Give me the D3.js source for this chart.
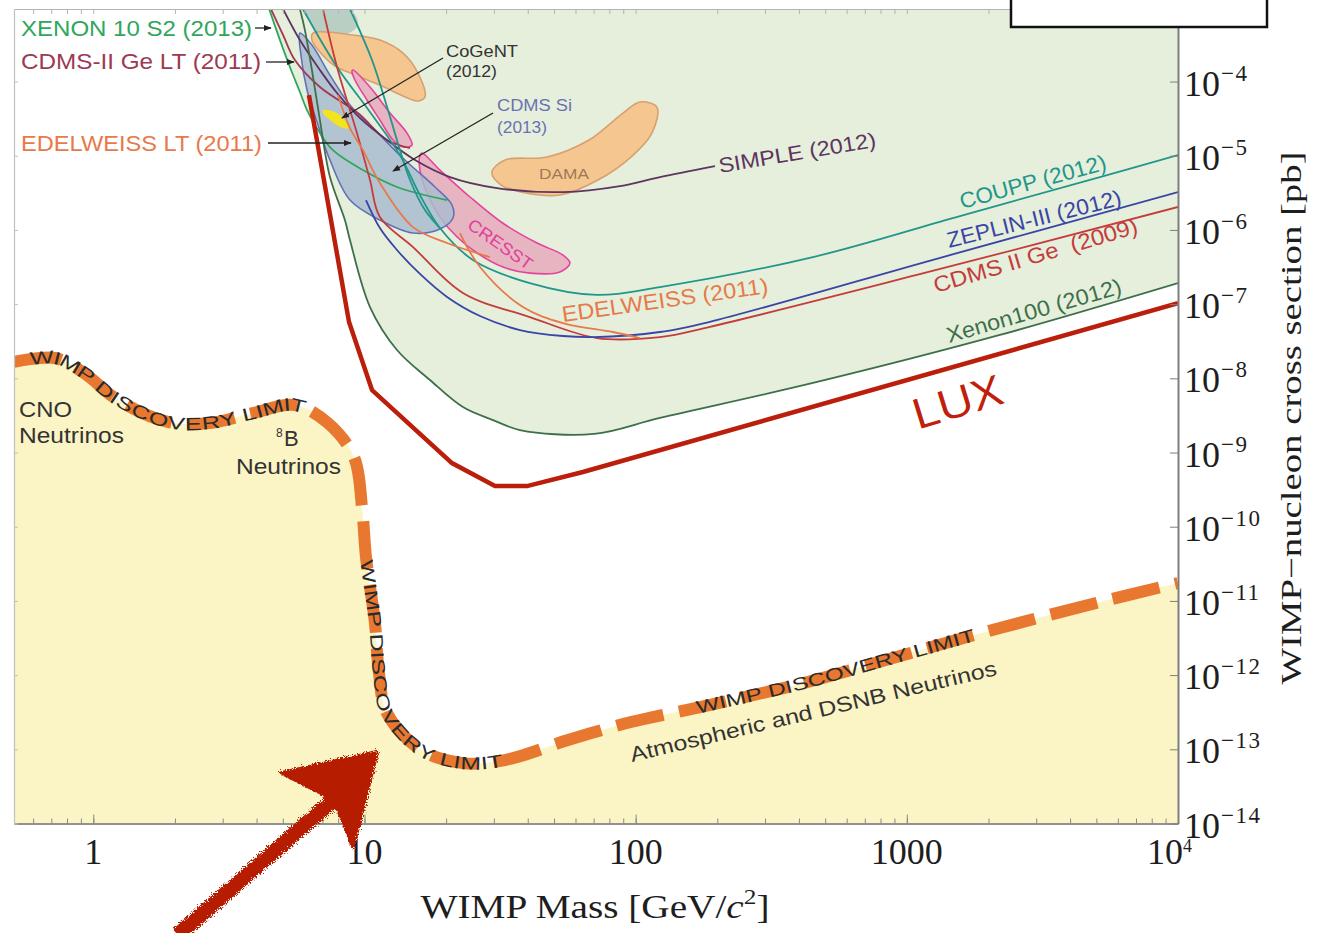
<!DOCTYPE html>
<html><head><meta charset="utf-8">
<script src="https://cdn.jsdelivr.net/npm/d3@7"></script>
<style>html,body{margin:0;padding:0;background:#fff;} svg{display:block;}</style>
</head><body>
<svg id="chart" width="1318" height="933"></svg>
<script>
// ---------------- DATA (mass in GeV/c^2, cross section in pb) ----------------
const massDomain = [0.51, 1e4];
const sigmaDomain = [1e-14, 9.5e-4];
const xTickValues = [1, 10, 100, 1000, 10000];
const xTickLabels = ["1", "10", "100", "1000", "10"];
const xTickSup = ["", "", "", "", "4"];
const yTickValues = [1e-4,1e-5,1e-6,1e-7,1e-8,1e-9,1e-10,1e-11,1e-12,1e-13,1e-14];
const yTickExponents = ["−4","−5","−6","−7","−8","−9","−10","−11","−12","−13","−14"];

const neutrinoFloor = [[0.51,1.66e-8],[0.722,1.88e-8],[0.924,1.18e-8],[1.233,5.1e-9],[1.885,2.58e-9],[2.693,2.5e-9],[3.88,3.4e-9],[5.54,4.36e-9],[7.33,2.5e-9],[9.15,8.69e-10],[9.79,1.84e-10],[10.13,3.9e-11],[10.93,5.04e-12],[11.31,1.07e-12],[12.1,3.08e-13],[16.16,9.77e-14],[23.07,6.52e-14],[32.96,7.16e-14],[56.3,1.33e-13],[96.1,2.33e-13],[172.6,3.71e-13],[403.5,7.59e-13],[943,1.81e-12],[2204,4.31e-12],[5152,9.66e-12],[10000,1.74e-11]];
const lux = [[6.24,6.58e-5],[8.77,5.74e-8],[10.66,6.95e-9],[21.02,7.21e-10],[30.28,3.53e-10],[39.75,3.53e-10],[63.9,5.46e-10],[10000,1.03e-7]];
const xenon100 = [[5.78,9.5e-4],[6.03,4.94e-4],[6.4,1.43e-4],[6.85,3.03e-5],[7.46,5.16e-6],[8.47,1.36e-6],[8.84,7.31e-7],[10.48,9.14e-8],[13.18,2.41e-8],[17.44,9.49e-9],[23.07,4.1e-9],[29.77,2.74e-9],[37.44,2.01e-9],[70.2,1.78e-9],[122.9,2.92e-9],[450.6,8.65e-9],[2204,3.84e-8],[10000,1.92e-7]];
const exclusionEdge = [[4.45,9.5e-4],[4.88,3.62e-4],[5.31,1.57e-4],[5.78,7.22e-5],[6.14,4.13e-5],[6.85,3.03e-5],[7.46,5.16e-6],[8.47,1.36e-6],[8.84,7.31e-7],[10.48,9.14e-8],[13.18,2.41e-8],[17.44,9.49e-9],[23.07,4.1e-9],[29.77,2.74e-9],[37.44,2.01e-9],[70.2,1.78e-9],[122.9,2.92e-9],[450.6,8.65e-9],[2204,3.84e-8],[10000,1.92e-7]];
const xenon10S2 = [[4.45,9.5e-4],[4.88,3.62e-4],[5.31,1.57e-4],[5.78,7.22e-5],[6.14,4.13e-5],[6.85,2.02e-5],[7.65,1.19e-5],[9.87,6.41e-6],[13.18,3.79e-6],[20.16,2.53e-6]];
const cdmsGeLT = [[4.52,9.5e-4],[5.01,4.24e-4],[5.54,1.95e-4],[6.85,8.43e-5],[9.46,3.76e-5],[12.1,1.63e-5],[14.72,1.27e-5]];
const simple = [[5.01,9.5e-4],[5.78,3.62e-4],[6.85,1.43e-4],[7.92,7.0e-5],[9.63,3.22e-5],[12.1,1.63e-5],[15.36,8.75e-6],[20.67,5.16e-6],[30.8,3.67e-6],[53.95,3.24e-6],[87.5,3.9e-6],[122.9,5.16e-6],[196.1,7.27e-6]];
const coupp = [[5.93,9.5e-4],[7.92,1.57e-4],[10.48,3.88e-5],[13.52,1.02e-5],[16.02,2.95e-6],[18.98,1.06e-6],[25.12,3.93e-7],[40.7,1.92e-7],[72,1.33e-7],[122.9,1.7e-7],[450.6,4.31e-7],[1570,1.54e-6],[5152,5.16e-6],[10000,1.02e-5]];
const coupp2 = [[8.84,9.5e-4],[10.66,1.95e-4],[12.21,4.13e-5],[13.52,1.19e-5],[14.72,4.71e-6],[16.71,1.85e-6],[18.98,1.06e-6]];
const cdmsGe2009 = [[7.03,9.5e-4],[7.92,1.57e-4],[9.38,2.02e-5],[10.48,4.71e-6],[11.4,1.49e-6],[15.1,5.88e-7],[23.07,1.41e-7],[40.7,6.7e-8],[72,3.49e-8],[122.9,3.6e-8],[186.3,4.91e-8],[1089,2.47e-7],[10000,2.04e-6]];
const zeplin3 = [[10.13,2.53e-6],[11.4,1.06e-6],[13.18,5.36e-7],[16.02,2.55e-7],[20.16,1.25e-7],[26.67,6.91e-8],[37.44,4.48e-8],[53.95,3.72e-8],[70.2,3.6e-8],[122.9,4.21e-8],[186.3,5.74e-8],[1358,4.31e-7],[10000,3.24e-6]];
const edelweissLT = [[7.99,6.58e-5],[8.84,2.36e-5],[9.87,1.19e-5],[11.4,4.29e-6],[15.1,1.09e-6],[20.16,6.66e-7],[29.0,4.31e-7]];
const edelweiss2011 = [[22.5,9.08e-7],[26.67,3.16e-7],[38.4,9.14e-8],[53.95,5.56e-8],[82.5,4.21e-8],[103.7,3.49e-8]];

const damaUpper = [[6.46,4.5e-4],[9.07,4.24e-4],[11.4,3.62e-4],[13.87,2.42e-4],[15.75,1.3e-4],[16.71,6.18e-5],[15.75,5.46e-5],[13.87,6.38e-5],[11.4,8.97e-5],[9.07,1.26e-4],[7.78,1.62e-4],[6.85,2.5e-4],[6.4,3.62e-4]];
const damaLower = [[29.5,6.0e-6],[33.0,8.75e-6],[47.1,9.6e-6],[67.3,1.63e-5],[89.8,3.76e-5],[103.7,5.3e-5],[119.8,4.53e-5],[114.8,2.02e-5],[96.1,9.6e-6],[72.6,4.71e-6],[52.6,2.95e-6],[39.4,3.14e-6],[31.9,4.03e-6]];
const cresstLower = [[16.29,1.09e-5],[18.98,6.41e-6],[24.5,2.78e-6],[32.4,1.23e-6],[43.3,6.66e-7],[53.95,4.59e-7],[57.25,3.58e-7],[52.6,2.71e-7],[40.7,2.62e-7],[32.4,3.16e-7],[26.0,4.89e-7],[21.96,8.02e-7],[18.98,1.49e-6],[17.0,3.14e-6],[16.02,6.41e-6],[16.02,1.02e-5]];
const cresstUpper = [[9.07,1.43e-4],[10.48,8.43e-5],[12.42,3.76e-5],[14.35,2.02e-5],[14.97,1.39e-5],[13.87,1.31e-5],[12.74,1.63e-5],[11.4,3.03e-5],[10.21,5.64e-5],[9.22,1.05e-4],[8.99,1.38e-4]];
const cdmsSi = [[5.78,4.5e-4],[6.4,3.1e-4],[7.46,1.22e-4],[8.84,4.82e-5],[10.93,2.22e-5],[14.1,8.75e-6],[18.2,3.79e-6],[21.02,2.17e-6],[21.2,1.45e-6],[18.98,1.03e-6],[15.1,9.08e-7],[11.4,1.36e-6],[8.84,2.53e-6],[7.46,8.75e-6],[6.74,2.59e-5],[6.14,7.68e-5],[5.83,2.28e-4]];
const cogent = [[7.03,4.13e-5],[7.92,3.76e-5],[8.62,2.76e-5],[8.84,2.36e-5],[8.33,2.36e-5],[7.46,3.03e-5],[7.03,3.76e-5]];
const grayRegion = [[5.93,9.5e-4],[8.84,9.5e-4],[9.46,5.77e-4],[8.47,4.24e-4],[6.85,4.24e-4],[6.3,6.34e-4]];

const arrowShaft = [[2.05,3.14e-16],[8.47,2.83e-14]];
const arrowHead = [[4.96,4.8e-14],[11.12,9.2e-14],[9.07,4.82e-15],[7.78,2.07e-14]];

const curveLabels = ["SIMPLE (2012)","COUPP (2012)","ZEPLIN-III (2012)","CDMS II Ge  (2009)","EDELWEISS (2011)","Xenon100 (2012)","LUX"];
const sideLabels = ["XENON 10 S2 (2013)","CDMS-II Ge LT (2011)","EDELWEISS LT (2011)"];
const regionLabels = ["CoGeNT","(2012)","CDMS Si","(2013)","DAMA","CRESST"];
const neutrinoLabels = ["CNO","Neutrinos","8","B","Neutrinos","Atmospheric and DSNB Neutrinos"];
const floorLabel = "WIMP DISCOVERY LIMIT";
const xTitle = ["WIMP Mass [GeV/","c","2","]"];
const yTitle = "WIMP−nucleon cross section [pb]";

// ---------------- DRAWING ----------------
const svg = d3.select("#chart");
const x = d3.scaleLog().domain(massDomain).range([14, 1178]);
const y = d3.scaleLog().domain(sigmaDomain).range([823.5, 9]);
const SANS = "'Liberation Sans', Arial, Helvetica, sans-serif";
const SERIF = "'Liberation Serif', 'Times New Roman', serif";

const defs = svg.append("defs");
defs.append("clipPath").attr("id","plotClip").append("rect")
  .attr("x", x(massDomain[0])).attr("y", y(sigmaDomain[1]))
  .attr("width", x(massDomain[1]) - x(massDomain[0])).attr("height", y(sigmaDomain[0]) - y(sigmaDomain[1]));
const mk = defs.append("marker").attr("id","ah").attr("viewBox","0 0 10 10").attr("refX",9).attr("refY",5)
  .attr("markerWidth",6).attr("markerHeight",6).attr("orient","auto");
mk.append("path").attr("d","M0,1L10,5L0,9Z").attr("fill","#222");
const flt = defs.append("filter").attr("id","rough").attr("x","-20%").attr("y","-20%").attr("width","140%").attr("height","140%");
flt.append("feTurbulence").attr("type","fractalNoise").attr("baseFrequency","0.8").attr("numOctaves",2).attr("result","n");
flt.append("feDisplacementMap").attr("in","SourceGraphic").attr("in2","n").attr("scale",7);

const lineGen = d3.line().x(d => x(d[0])).y(d => y(d[1])).curve(d3.curveCatmullRom.alpha(0.5));
const polyGen = d3.line().x(d => x(d[0])).y(d => y(d[1])).curve(d3.curveLinear);
const blobGen = d3.line().x(d => x(d[0])).y(d => y(d[1])).curve(d3.curveCatmullRomClosed.alpha(0.5));

const plot = svg.append("g").attr("clip-path","url(#plotClip)");

// excluded (green) region
const sTop = sigmaDomain[1], sBot = sigmaDomain[0];
plot.append("path")
  .attr("d", lineGen(exclusionEdge) + "L" + x(massDomain[1]) + "," + y(sTop) + "L" + x(exclusionEdge[0][0]) + "," + y(sTop) + "Z")
  .attr("fill","#e5efdb");
// neutrino (yellow) region
plot.append("path")
  .attr("d", lineGen(neutrinoFloor) + "L" + x(massDomain[1]) + "," + y(sBot) + "L" + x(massDomain[0]) + "," + y(sBot) + "Z")
  .attr("fill","#fbf4c4");

// signal regions
const blobs = [
  {d: grayRegion, fill:"#b9cfc4", stroke:"none", op:1},
  {d: damaUpper, fill:"#f6c690", stroke:"#d7a070", op:1},
  {d: damaLower, fill:"#f6c690", stroke:"#d7a070", op:1},
  {d: cresstUpper, fill:"#e7b4c2", stroke:"#e4449c", op:1},
  {d: cresstLower, fill:"#e7b4c2", stroke:"#e4449c", op:1},
  {d: cdmsSi, fill:"#a9bccf", stroke:"#6470b5", op:0.85},
  {d: cogent, fill:"#f2e41e", stroke:"none", op:1}
];
blobs.forEach(b => plot.append("path").attr("d", blobGen(b.d)).attr("fill", b.fill).attr("fill-opacity", b.op)
  .attr("stroke", b.stroke).attr("stroke-width", 1.6));

// limit curves
const curves = [
  {d: xenon10S2, c:"#2fa65c"}, {d: cdmsGeLT, c:"#a03a55"}, {d: simple, c:"#5e3462"},
  {d: coupp, c:"#21968a"}, {d: coupp2, c:"#21968a"}, {d: cdmsGe2009, c:"#c43c3c"},
  {d: zeplin3, c:"#3a45a6"}, {d: edelweissLT, c:"#e8794a"}, {d: edelweiss2011, c:"#e8794a"},
  {d: xenon100, c:"#3e6f4a"}
];
curves.forEach(k => plot.append("path").attr("d", lineGen(k.d)).attr("fill","none").attr("stroke", k.c).attr("stroke-width", 1.8));

// neutrino discovery limit (dashed)
const nuPath = plot.append("path").attr("id","nuLine").attr("d", lineGen(neutrinoFloor))
  .attr("fill","none").attr("stroke","#e8782f").attr("stroke-width",12).attr("stroke-dasharray","48,16");

// LUX
plot.append("path").attr("d", polyGen(lux)).attr("fill","none").attr("stroke","#bb1e0b").attr("stroke-width",4.5).attr("stroke-linejoin","miter");

// text along the discovery limit
function lenAt(node, px, py) {
  const L = node.getTotalLength(); let best = 0, bd = Infinity;
  for (let s = 0; s <= L; s += 1) { const p = node.getPointAtLength(s); const d = (p.x-px)**2 + (p.y-py)**2; if (d < bd) { bd = d; best = s; } }
  return best;
}
const nn = nuPath.node();
[[30,362,305,410],[365,560,503,762],[697,712,975,640]].forEach(([x0,y0,x1,y1]) => {
  const s0 = lenAt(nn, x0, y0), s1 = lenAt(nn, x1, y1);
  svg.append("text").attr("font-family", SANS).attr("font-size", 18).attr("fill","#2a2a2a").attr("dominant-baseline","central")
    .append("textPath").attr("href","#nuLine").attr("startOffset", s0).attr("textLength", s1 - s0)
    .attr("lengthAdjust","spacingAndGlyphs").text(floorLabel);
});

// axes
const minorX = []; for (let e = -1; e <= 4; e++) for (let k = 1; k < 10; k++) { const v = k*Math.pow(10,e); if (v >= massDomain[0] && v <= massDomain[1]) minorX.push(v); }
function styleAxis(g, col, w) { g.selectAll("path.domain").attr("stroke", col).attr("stroke-width", w); g.selectAll(".tick line").attr("stroke", col); g.selectAll(".tick text").remove(); }
svg.append("g").attr("transform","translate(0," + y(sBot) + ")").call(d3.axisBottom(x).tickValues(minorX).tickSize(-5).tickSizeOuter(0)).call(g => styleAxis(g,"#8a8a8a",1.5));
svg.append("g").attr("transform","translate(0," + y(sBot) + ")").call(d3.axisBottom(x).tickValues(xTickValues).tickSize(-9).tickSizeOuter(0)).call(g => styleAxis(g,"#8a8a8a",1.5));
svg.append("g").attr("transform","translate(0," + y(sTop) + ")").call(d3.axisTop(x).tickValues(minorX).tickSize(-5).tickSizeOuter(0)).call(g => styleAxis(g,"#b4b4b4",1.2));
svg.append("g").attr("transform","translate(" + x(massDomain[0]) + ",0)").call(d3.axisLeft(y).tickValues(yTickValues).tickSize(-4).tickSizeOuter(0)).call(g => styleAxis(g,"#c0c0c0",1.2));
svg.append("g").attr("transform","translate(" + x(massDomain[1]) + ",0)").call(d3.axisRight(y).tickValues(yTickValues).tickSize(-8).tickSizeOuter(0)).call(g => styleAxis(g,"#7e7e7e",2));

// tick labels
yTickValues.forEach((v,i) => {
  svg.append("text").attr("font-family", SERIF).attr("font-size", 36).attr("fill","#1e1e1e").attr("x", 1184).attr("y", y(v) + 14).text("10");
  svg.append("text").attr("font-family", SERIF).attr("font-size", 23).attr("fill","#1e1e1e").attr("letter-spacing", 1.5)
    .attr("x", 1221).attr("y", y(v) - 1).text(yTickExponents[i]);
});
xTickValues.forEach((v,i) => {
  svg.append("text").attr("font-family", SERIF).attr("font-size", 36).attr("fill","#1e1e1e")
    .attr("text-anchor", xTickSup[i] ? "end" : "middle").attr("x", xTickSup[i] ? x(v) + 5 : x(v)).attr("y", 864).text(xTickLabels[i]);
  if (xTickSup[i]) svg.append("text").attr("font-family", SERIF).attr("font-size", 18).attr("fill","#1e1e1e")
    .attr("x", x(v) + 5).attr("y", 852).text(xTickSup[i]);
});

// axis titles
const xt = svg.append("text").attr("font-family", SERIF).attr("font-size", 34).attr("fill","#1e1e1e")
  .attr("text-anchor","middle").attr("x", 595).attr("y", 918).attr("textLength", 349).attr("lengthAdjust","spacingAndGlyphs");
xt.append("tspan").text(xTitle[0]);
xt.append("tspan").attr("font-style","italic").text(xTitle[1]);
xt.append("tspan").attr("font-size", 22).attr("dy", -14).text(xTitle[2]);
xt.append("tspan").attr("dy", 14).text(xTitle[3]);
svg.append("g").attr("transform","translate(1301,418) rotate(-90)").append("text")
  .attr("font-family", SERIF).attr("font-size", 29).attr("fill","#1e1e1e").attr("text-anchor","middle")
  .attr("textLength", 533).attr("lengthAdjust","spacingAndGlyphs").text(yTitle);

// labels
function label(str, px, py, o) {
  const g = svg.append("g").attr("transform", `translate(${px},${py}) rotate(${o.angle || 0})`);
  const t = g.append("text").attr("font-family", o.family || SANS).attr("font-size", o.size || 20)
    .attr("fill", o.color || "#333").attr("text-anchor", o.anchor || "start").style("white-space","pre").text(str);
  if (o.len) t.attr("textLength", o.len).attr("lengthAdjust","spacingAndGlyphs");
  return t;
}
label(curveLabels[0], 720, 173, {angle:-9.5, len:159, size:21, color:"#5e3462"});
label(curveLabels[1], 962, 209, {angle:-15.3, len:151, size:22, color:"#21968a"});
label(curveLabels[2], 949, 248, {angle:-14, len:179, size:22, color:"#3a45a6"});
label(curveLabels[3], 936, 293, {angle:-16.5, len:212, size:22, color:"#c43c3c"});
label(curveLabels[4], 563, 322, {angle:-8, len:208, size:22, color:"#e8794a"});
label(curveLabels[5], 949, 343, {angle:-16, len:181, size:22, color:"#3e6f4a"});
label(curveLabels[6], 917, 430, {angle:-17, len:92, size:42, color:"#c0200a", family:"'Open Sans', 'Liberation Sans', sans-serif"});

label(sideLabels[0], 21, 36, {len:231, size:22, color:"#2fa65c"});
label(sideLabels[1], 21, 69, {len:240, size:22, color:"#9c3a52"});
label(sideLabels[2], 21, 151, {len:241, size:22, color:"#e8794a"});

label(regionLabels[0], 446, 57, {len:72, size:16, color:"#333"});
label(regionLabels[1], 446, 77, {len:51, size:16, color:"#333"});
label(regionLabels[2], 497, 111, {len:75, size:16, color:"#6a72b4"});
label(regionLabels[3], 497, 133, {len:50, size:16, color:"#6a72b4"});
label(regionLabels[4], 539, 179, {len:50, size:14, color:"#9c7a58"});
label(regionLabels[5], 497, 249, {angle:35, len:75, size:17, color:"#e0409a", anchor:"middle"});

label(neutrinoLabels[0], 19, 417, {len:53, size:22, color:"#333"});
label(neutrinoLabels[1], 19, 443, {len:105, size:22, color:"#333"});
label(neutrinoLabels[2], 276, 437, {size:12, color:"#333"});
label(neutrinoLabels[3], 284, 446, {size:22, color:"#333"});
label(neutrinoLabels[4], 236, 474, {len:105, size:22, color:"#333"});
label(neutrinoLabels[5], 632, 762, {angle:-13.4, len:376, size:21, color:"#333"});

// pointer arrows
[[255,28,271,28],[266,62,294,62],[268,143,351,143],[443,58,342,118],[493,113,393,171]].forEach(([a,b,c,d]) =>
  svg.append("line").attr("x1",a).attr("y1",b).attr("x2",c).attr("y2",d).attr("stroke","#222").attr("stroke-width",1.3).attr("marker-end","url(#ah)"));

// hand-drawn red arrow
const ag = svg.append("g").attr("filter","url(#rough)");
ag.append("path").attr("d", polyGen(arrowShaft)).attr("stroke","#b51b04").attr("stroke-width",15).attr("fill","none");
ag.append("path").attr("d", polyGen(arrowHead) + "Z").attr("fill","#b51b04").attr("stroke","#b51b04").attr("stroke-width",4).attr("stroke-linejoin","round");

// empty box top right
svg.append("rect").attr("x",1011).attr("y",-3).attr("width",256).attr("height",30).attr("fill","#fff").attr("stroke","#111").attr("stroke-width",2.5);
</script>
</body></html>
